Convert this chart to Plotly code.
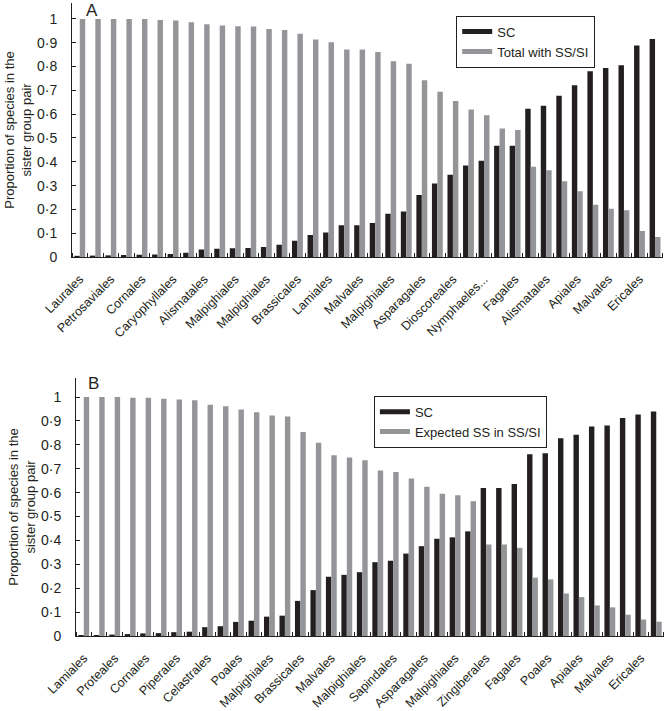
import plotly.graph_objects as go

# ---------------- data ----------------
labels_A = ["Laurales", "Petrosaviales", "Cornales", "Caryophyllales", "Alismatales",
            "Malpighiales", "Malpighiales", "Brassicales", "Lamiales", "Malvales",
            "Malpighiales", "Asparagales", "Dioscoreales", "Nymphaeles...", "Fagales",
            "Alismatales", "Apiales", "Malvales", "Ericales"]
sc_A = [0.005, 0.006, 0.007, 0.009, 0.010, 0.011, 0.013, 0.018, 0.032, 0.035,
        0.037, 0.038, 0.042, 0.052, 0.068, 0.092, 0.103, 0.133, 0.133, 0.143,
        0.182, 0.191, 0.261, 0.309, 0.346, 0.384, 0.404, 0.467, 0.467, 0.623,
        0.635, 0.677, 0.721, 0.780, 0.794, 0.805, 0.889, 0.916]
ss_A = [1.0, 1.0, 1.0, 1.0, 1.0, 0.996, 0.993, 0.986, 0.978, 0.973,
        0.969, 0.968, 0.958, 0.954, 0.938, 0.914, 0.902, 0.872, 0.872, 0.861,
        0.822, 0.812, 0.742, 0.694, 0.655, 0.620, 0.595, 0.540, 0.534, 0.379,
        0.365, 0.318, 0.276, 0.220, 0.203, 0.196, 0.109, 0.084]

labels_B = ["Lamiales", "Proteales", "Cornales", "Piperales", "Celastrales",
            "Poales", "Malpighiales", "Brassicales", "Malvales", "Malpighiales",
            "Sapindales", "Asparagales", "Malpighiales", "Zingiberales", "Fagales",
            "Poales", "Apiales", "Malvales", "Ericales"]
sc_B = [0.003, 0.004, 0.006, 0.008, 0.011, 0.012, 0.016, 0.018, 0.037, 0.041,
        0.059, 0.064, 0.081, 0.085, 0.147, 0.192, 0.248, 0.256, 0.267, 0.309,
        0.315, 0.345, 0.376, 0.407, 0.413, 0.438, 0.620, 0.620, 0.636, 0.761,
        0.765, 0.828, 0.842, 0.877, 0.881, 0.913, 0.927, 0.940]
ss_B = [1.0, 1.0, 1.0, 0.997, 0.997, 0.993, 0.990, 0.987, 0.968, 0.962,
        0.948, 0.937, 0.923, 0.919, 0.854, 0.809, 0.757, 0.747, 0.736, 0.693,
        0.687, 0.659, 0.625, 0.595, 0.589, 0.564, 0.383, 0.383, 0.369, 0.244,
        0.237, 0.178, 0.163, 0.128, 0.120, 0.089, 0.069, 0.060]

series_names_A = ["SC", "Total with SS/SI"]
series_names_B = ["SC", "Expected SS in SS/SI"]
y_tickvals = [0, 0.1, 0.2, 0.3, 0.4, 0.5, 0.6, 0.7, 0.8, 0.9, 1]
y_ticktext = ["0", "0·1", "0·2", "0·3", "0·4", "0·5", "0·6", "0·7", "0·8", "0·9", "1"]
y_title = "Proportion of species in the<br>sister group pair"

# ---------------- style ----------------
BLACK = "#231f20"
GRAY = "#939598"
FONT = "Liberation Sans, Arial, sans-serif"

fig = go.Figure()

def add_panel(sc, ss, names, xa, ya, legend_name):
    n = list(range(len(sc)))
    fig.add_trace(go.Bar(x=n, y=sc, marker_color=BLACK, marker_line_width=0,
                         xaxis=xa, yaxis=ya, showlegend=False, name=names[0]))
    fig.add_trace(go.Bar(x=n, y=ss, marker_color=GRAY, marker_line_width=0,
                         xaxis=xa, yaxis=ya, showlegend=False, name=names[1]))
    # legend-only entries drawn as thick line keys
    fig.add_trace(go.Scatter(x=[None], y=[None], mode="lines", name=names[0],
                             line=dict(color=BLACK, width=5), xaxis=xa, yaxis=ya,
                             legend=legend_name))
    fig.add_trace(go.Scatter(x=[None], y=[None], mode="lines", name=names[1],
                             line=dict(color=GRAY, width=5), xaxis=xa, yaxis=ya,
                             legend=legend_name))

add_panel(sc_A, ss_A, series_names_A, "x", "y", "legend")
add_panel(sc_B, ss_B, series_names_B, "x2", "y2", "legend2")

nA = len(sc_A)
nB = len(sc_B)

def xaxis_cfg(n, labels, domain, anchor):
    return dict(
        domain=domain, anchor=anchor, range=[-0.5, n - 0.5], automargin=False,
        tickmode="array", tickvals=list(range(0, n, 2))[:len(labels)], ticktext=labels,
        tickangle=-45, ticks="", showline=True, linecolor=BLACK, linewidth=1,
        showgrid=False, zeroline=False, ticklabelstandoff=9,
        tickfont=dict(family=FONT, size=12.5, color=BLACK),
        minor=dict(tickmode="array", tickvals=[i - 0.5 for i in range(n + 1)],
                   ticks="inside", ticklen=4, tickcolor=BLACK, tickwidth=1, showgrid=False),
    )

def yaxis_cfg(domain, anchor, top):
    return dict(
        domain=domain, anchor=anchor, range=[0, top], automargin=False,
        tickmode="array", tickvals=y_tickvals, ticktext=y_ticktext,
        ticks="inside", ticklen=4, tickcolor=BLACK, showline=True, linecolor=BLACK,
        linewidth=1, showgrid=False, zeroline=False, ticklabelstandoff=11,
        tickfont=dict(family=FONT, size=14, color=BLACK),
        title=dict(text=y_title, font=dict(family=FONT, size=13, color=BLACK), standoff=2),
    )

legend_common = dict(xanchor="left", yanchor="top", bordercolor=BLACK, borderwidth=1,
                     bgcolor="white", font=dict(family=FONT, size=13, color=BLACK),
                     tracegroupgap=0, itemwidth=30)

fig.update_layout(
    width=666, height=711,
    margin=dict(l=72, r=2, t=3, b=75),
    paper_bgcolor="white", plot_bgcolor="white",
    barmode="group", bargap=0.3, bargroupgap=0,
    font=dict(family=FONT, color=BLACK),
    xaxis=xaxis_cfg(nA, labels_A, [0, 0.998], "y"),
    yaxis=yaxis_cfg([0.5987, 1.0], "x", 1.067),
    xaxis2=xaxis_cfg(nB, labels_B, [0.0068, 1.0], "y2"),
    yaxis2=yaxis_cfg([0, 0.4076], "x2", 1.08),
    legend=dict(x=0.649, y=0.98, **legend_common),
    legend2=dict(x=0.51, y=0.3796, **legend_common),
    annotations=[
        dict(text="A", xref="x domain", yref="y domain", x=0.02, y=0.97,
             xanchor="left", yanchor="middle", showarrow=False,
             font=dict(family=FONT, size=17, color=BLACK)),
        dict(text="B", xref="x2 domain", yref="y2 domain", x=0.017, y=0.98,
             xanchor="left", yanchor="middle", showarrow=False,
             font=dict(family=FONT, size=17, color=BLACK)),
    ],
)

fig.write_html("out.html", config={"displayModeBar": False},
               post_script="document.body.style.margin='0';document.body.style.overflow='hidden';")
